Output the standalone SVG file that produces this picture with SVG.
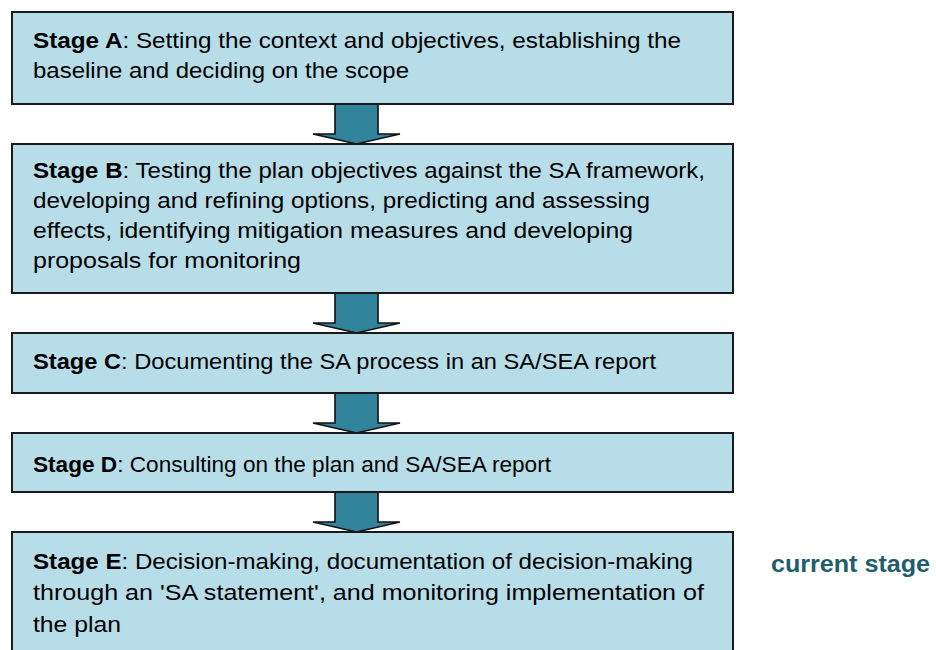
<svg xmlns="http://www.w3.org/2000/svg" width="936" height="650" viewBox="0 0 936 650">
  <style>
    .box { fill: #b7dde8; stroke: #1a1a1a; stroke-width: 2; }
    .txt { font-family: "Liberation Sans", Arial, sans-serif; font-size: 22.5px; fill: #000; }
    .b { font-weight: bold; }
    .arrow { fill: #31849b; stroke: #111; stroke-width: 1.6; stroke-linejoin: miter; }
    .note { font-family: "Liberation Sans", Arial, sans-serif; font-size: 23.5px; font-weight: bold; fill: #215d6d; }
  </style>
  <defs>
    <!-- block arrow pointing down; origin at top centre of the shaft -->
    <path id="down" d="M-21.5,0 H21.5 V30 H43.5 L0,40 L-43.5,30 H-21.5 Z"/>
  </defs>
  <rect width="936" height="650" fill="#ffffff"/>

  <g id="connectors">
    <use href="#down" class="arrow" x="356.5" y="104"/>
    <use href="#down" class="arrow" x="356.5" y="293"/>
    <use href="#down" class="arrow" x="356.5" y="393"/>
    <use href="#down" class="arrow" x="356.5" y="492"/>
  </g>

  <g id="stage-a">
    <rect class="box" x="12" y="12" width="721" height="92"/>
    <text class="txt" x="33" y="48" textLength="648" lengthAdjust="spacingAndGlyphs"><tspan class="b">Stage A</tspan>: Setting the context and objectives, establishing the</text>
    <text class="txt" x="33" y="78" textLength="376" lengthAdjust="spacingAndGlyphs">baseline and deciding on the scope</text>
  </g>

  <g id="stage-b">
    <rect class="box" x="12" y="144" width="721" height="149"/>
    <text class="txt" x="33" y="178" textLength="672" lengthAdjust="spacingAndGlyphs"><tspan class="b">Stage B</tspan>: Testing the plan objectives against the SA framework,</text>
    <text class="txt" x="33" y="208" textLength="617" lengthAdjust="spacingAndGlyphs">developing and refining options, predicting and assessing</text>
    <text class="txt" x="33" y="238" textLength="600" lengthAdjust="spacingAndGlyphs">effects, identifying mitigation measures and developing</text>
    <text class="txt" x="33" y="268" textLength="268" lengthAdjust="spacingAndGlyphs">proposals for monitoring</text>
  </g>

  <g id="stage-c">
    <rect class="box" x="12" y="333" width="721" height="60"/>
    <text class="txt" x="33" y="369" textLength="623" lengthAdjust="spacingAndGlyphs"><tspan class="b">Stage C</tspan>: Documenting the SA process in an SA/SEA report</text>
  </g>

  <g id="stage-d">
    <rect class="box" x="12" y="433" width="721" height="59"/>
    <text class="txt" x="33" y="472" textLength="518" lengthAdjust="spacingAndGlyphs"><tspan class="b">Stage D</tspan>: Consulting on the plan and SA/SEA report</text>
  </g>

  <g id="stage-e">
    <rect class="box" x="12" y="532" width="721" height="130"/>
    <text class="txt" x="33" y="569" textLength="660" lengthAdjust="spacingAndGlyphs"><tspan class="b">Stage E</tspan>: Decision-making, documentation of decision-making</text>
    <text class="txt" x="33" y="600" textLength="671" lengthAdjust="spacingAndGlyphs">through an 'SA statement', and monitoring implementation of</text>
    <text class="txt" x="33" y="632" textLength="88" lengthAdjust="spacingAndGlyphs">the plan</text>
  </g>

  <g id="current-stage">
    <text class="note" x="771" y="572" textLength="159" lengthAdjust="spacingAndGlyphs">current stage</text>
  </g>
</svg>
